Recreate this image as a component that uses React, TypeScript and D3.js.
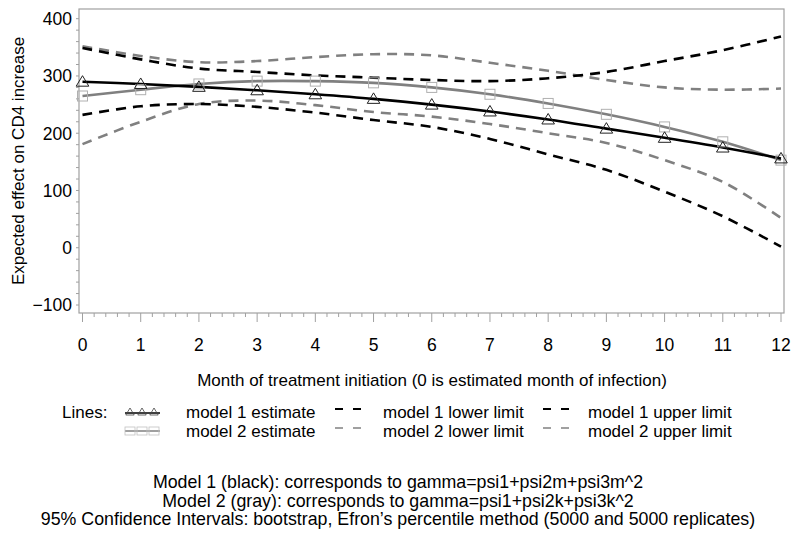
import { useRef, useEffect } from "react";
import * as d3 from "d3";

// months 0..12
const months = [0, 1, 2, 3, 4, 5, 6, 7, 8, 9, 10, 11, 12];

// values
const model1Est = [290, 286, 281, 275, 268, 260, 250, 238, 224, 208, 192, 175, 156];
const model1Lower = [232, 247, 251, 246, 236, 223, 211, 190, 163, 136, 98, 55, 2];
const model1Upper = [349, 329, 313, 307, 301, 297, 293, 291, 296, 307, 326, 345, 369];
const model2Est = [265, 276, 286, 291, 291, 288, 280, 268, 252, 233, 211, 185, 153];
const model2Lower = [181, 220, 251, 257, 249, 237, 229, 216, 200, 183, 153, 115, 52];
const model2Upper = [352, 335, 324, 326, 333, 338, 336, 323, 309, 293, 280, 276, 278];

const yTicks = [-100, 0, 100, 200, 300, 400];

const footNotes = [
  "Model 1 (black): corresponds to gamma=psi1+psi2m+psi3m^2",
  "Model 2 (gray): corresponds to gamma=psi1+psi2k+psi3k^2",
  "95% Confidence Intervals: bootstrap, Efron\u2019s percentile method (5000 and 5000 replicates)",
];

const FONT = "'Liberation Sans', Arial, sans-serif";

const App = () => {
  const ref = useRef<SVGSVGElement>(null);

  useEffect(() => {
    const svg = d3.select(ref.current);
    svg.selectAll("*").remove();

    const frame = { left: 79, right: 784, top: 9, bottom: 313 };

    const x = d3.scaleLinear().domain([0, 12]).range([82.5, 781]);
    const y = d3.scaleLinear().domain([-100, 400]).range([305, 18.7]);

    const axisColor = "#a0a0a0";

    // frame
    svg
      .append("rect")
      .attr("x", frame.left)
      .attr("y", frame.top)
      .attr("width", frame.right - frame.left)
      .attr("height", frame.bottom - frame.top)
      .attr("fill", "none")
      .attr("stroke", axisColor)
      .attr("stroke-width", 1.2);

    // y axis ticks
    const yMinor = d3.range(-100, 401, 20);
    svg
      .append("g")
      .selectAll("line")
      .data(yMinor)
      .join("line")
      .attr("x1", frame.left - 3)
      .attr("x2", frame.left)
      .attr("y1", (d) => y(d))
      .attr("y2", (d) => y(d))
      .attr("stroke", axisColor);

    svg
      .append("g")
      .selectAll("text")
      .data(yTicks)
      .join("text")
      .attr("x", 72)
      .attr("y", (d) => y(d))
      .attr("dy", "0.36em")
      .attr("text-anchor", "end")
      .attr("font-family", FONT)
      .attr("font-size", 17.5)
      .text((d) => (d < 0 ? "\u2212" + Math.abs(d) : String(d)));

    // x axis ticks
    const xMinor = d3.range(0, 12.001, 0.2);
    svg
      .append("g")
      .selectAll("line")
      .data(xMinor)
      .join("line")
      .attr("x1", (d) => x(d))
      .attr("x2", (d) => x(d))
      .attr("y1", frame.bottom)
      .attr("y2", (d) => (Math.abs(d - Math.round(d)) < 1e-6 ? frame.bottom + 9 : frame.bottom + 4))
      .attr("stroke", axisColor);

    svg
      .append("g")
      .selectAll("text")
      .data(months)
      .join("text")
      .attr("x", (d) => x(d))
      .attr("y", 345)
      .attr("dy", "0.36em")
      .attr("text-anchor", "middle")
      .attr("font-family", FONT)
      .attr("font-size", 17.5)
      .text((d) => d);

    // axis titles
    svg
      .append("text")
      .attr("x", 432)
      .attr("y", 380)
      .attr("dy", "0.36em")
      .attr("text-anchor", "middle")
      .attr("font-family", FONT)
      .attr("font-size", 17)
      .text("Month of treatment initiation (0 is estimated month of infection)");

    svg
      .append("text")
      .attr("transform", "translate(18,161) rotate(-90)")
      .attr("dy", "0.36em")
      .attr("text-anchor", "middle")
      .attr("font-family", FONT)
      .attr("font-size", 17)
      .text("Expected effect on CD4 increase");

    // lines
    const line = d3
      .line<number>()
      .x((_, i) => x(months[i]))
      .y((d) => y(d))
      .curve(d3.curveCatmullRom.alpha(0.5));

    const plot = svg.append("g");
    const black = "#000";
    const gray = "#808080";
    const dash = "10,7";

    const series = [
      { v: model2Upper, c: gray, dash },
      { v: model2Lower, c: gray, dash },
      { v: model1Upper, c: black, dash },
      { v: model1Lower, c: black, dash },
      { v: model2Est, c: gray, dash: null },
      { v: model1Est, c: black, dash: null },
    ];
    series.forEach((s) => {
      plot
        .append("path")
        .attr("d", line(s.v))
        .attr("fill", "none")
        .attr("stroke", s.c)
        .attr("stroke-width", 2.6)
        .attr("stroke-dasharray", s.dash);
    });

    const tri = (cx: number, cy: number, r: number) =>
      `M${cx},${cy - r}L${cx + r * 1.05},${cy + r * 0.75}L${cx - r * 1.05},${cy + r * 0.75}Z`;

    // markers
    plot
      .append("g")
      .selectAll("rect")
      .data(model2Est)
      .join("rect")
      .attr("x", (_, i) => x(months[i]) - 5)
      .attr("y", (d) => y(d) - 5)
      .attr("width", 10)
      .attr("height", 10)
      .attr("fill", "none")
      .attr("stroke", "#b0b0b0")
      .attr("stroke-width", 1);

    plot
      .append("g")
      .selectAll("path")
      .data(model1Est)
      .join("path")
      .attr("d", (d, i) => tri(x(months[i]), y(d), 6))
      .attr("fill", "none")
      .attr("stroke", "#222")
      .attr("stroke-width", 1);

    // legend
    const lg = svg.append("g").attr("font-family", FONT).attr("font-size", 17);
    const rowY = [412, 431];
    lg.append("text").attr("x", 62).attr("y", rowY[0]).attr("dy", "0.36em").text("Lines:");

    // estimate symbols
    lg.append("line")
      .attr("x1", 125).attr("x2", 160)
      .attr("y1", rowY[0] + 1).attr("y2", rowY[0] + 1)
      .attr("stroke", black).attr("stroke-width", 1.5);
    [130, 142, 154].forEach((cx) => {
      lg.append("path").attr("d", tri(cx, rowY[0], 4)).attr("fill", "none").attr("stroke", "#444").attr("stroke-width", 0.8);
    });
    lg.append("line")
      .attr("x1", 125).attr("x2", 160)
      .attr("y1", rowY[1]).attr("y2", rowY[1])
      .attr("stroke", gray).attr("stroke-width", 1.5);
    [130, 142, 154].forEach((cx) => {
      lg.append("rect").attr("x", cx - 5).attr("y", rowY[1] - 4).attr("width", 10).attr("height", 8)
        .attr("fill", "none").attr("stroke", "#c0c0c0").attr("stroke-width", 0.8);
    });
    lg.append("text").attr("x", 186).attr("y", rowY[0]).attr("dy", "0.36em").text("model 1 estimate");
    lg.append("text").attr("x", 186).attr("y", rowY[1]).attr("dy", "0.36em").text("model 2 estimate");

    const dashSym = (x0: number, yy: number, c: string) => {
      lg.append("line")
        .attr("x1", x0).attr("x2", x0 + 27)
        .attr("y1", yy - 3).attr("y2", yy - 3)
        .attr("stroke", c).attr("stroke-width", 2.2)
        .attr("stroke-dasharray", "8,10");
    };
    dashSym(335, rowY[0], black);
    dashSym(335, rowY[1], "#a0a0a0");
    lg.append("text").attr("x", 383).attr("y", rowY[0]).attr("dy", "0.36em").text("model 1 lower limit");
    lg.append("text").attr("x", 383).attr("y", rowY[1]).attr("dy", "0.36em").text("model 2 lower limit");

    dashSym(543, rowY[0], black);
    dashSym(543, rowY[1], "#a0a0a0");
    lg.append("text").attr("x", 588).attr("y", rowY[0]).attr("dy", "0.36em").text("model 1 upper limit");
    lg.append("text").attr("x", 588).attr("y", rowY[1]).attr("dy", "0.36em").text("model 2 upper limit");

    // footnotes
    svg
      .append("g")
      .selectAll("text")
      .data(footNotes)
      .join("text")
      .attr("x", 398)
      .attr("y", (_, i) => 482 + i * 18.5)
      .attr("dy", "0.36em")
      .attr("text-anchor", "middle")
      .attr("font-family", FONT)
      .attr("font-size", 17.8)
      .text((d) => d);
  }, []);

  return (
    <svg
      ref={ref}
      width={800}
      height={545}
      style={{ position: "absolute", left: 0, top: 0, background: "#fff" }}
    />
  );
};

export default App;
